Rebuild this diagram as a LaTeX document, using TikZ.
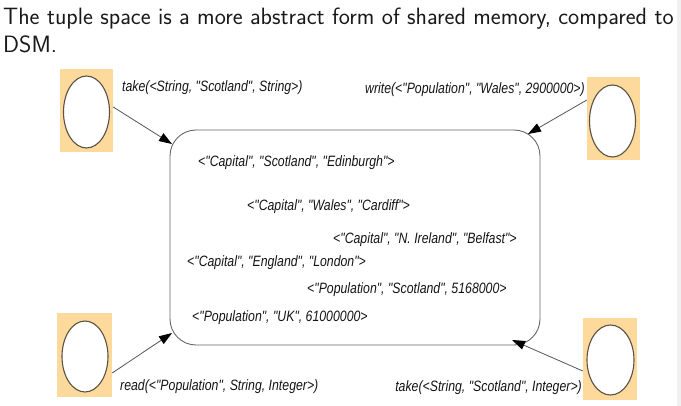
\documentclass[tikz,border=0pt]{standalone}
\usepackage{fontspec}
\usetikzlibrary{arrows.meta,shapes.geometric}
\newfontfamily\lblfont[FakeStretch=0.82]{Liberation Sans}
\definecolor{procfill}{HTML}{FDD99B}
\definecolor{ringcol}{HTML}{5A5242}
\definecolor{linecol}{HTML}{555555}
\begin{document}
\begin{tikzpicture}[x=1pt,y=-1pt,
  proc/.style={fill=procfill,draw=none},
  ring/.style={draw=ringcol,line width=1.1pt,fill=white},
  lbl/.style={font=\lblfont\itshape\fontsize{15}{17}\selectfont,text=black!92,inner sep=0pt},
  tup/.style={font=\lblfont\itshape\fontsize{15}{17}\selectfont,text=black!92,inner sep=0pt,anchor=west},
  conn/.style={draw=linecol,line width=0.8pt,-{Triangle[length=13pt,width=9pt,color=black]}},
  titletext/.style={font=\sffamily\fontsize{23.6}{28}\selectfont,text=black!90,inner sep=0pt,anchor=base west}]
\useasboundingbox (0,0) rectangle (681,406);
\fill[black!6] (677,0) rectangle (681,406);
\node[titletext] (t1) at (3,25) {The tuple space is a more abstract form of shared memory, compared to};
\node[titletext] (t2) at (3,53) {DSM.};
% tuple space
\node[draw=black!60,line width=0.9pt,rounded corners=26pt,minimum width=370pt,minimum height=215pt,inner sep=0pt] (space) at (355,237.5) {};
\node[tup] (e1) at (198,163) {<"Capital", "Scotland", "Edinburgh">};
\node[tup] (e2) at (247,207) {<"Capital", "Wales", "Cardiff">};
\node[tup] (e3) at (333,240) {<"Capital", "N. Ireland", "Belfast">};
\node[tup] (e4) at (187,263) {<"Capital", "England", "London">};
\node[tup] (e5) at (307,290) {<"Population", "Scotland", 5168000>};
\node[tup] (e6) at (192,318) {<"Population", "UK", 61000000>};
% processes
\node[proc,minimum width=53pt,minimum height=83pt,inner sep=0pt] (p1) at (86.5,110.5) {};
\node[ring,ellipse,minimum width=46pt,minimum height=72pt,inner sep=0pt] (r1) at (86.5,112) {};
\node[proc,minimum width=53pt,minimum height=83pt,inner sep=0pt] (p2) at (613.5,118.5) {};
\node[ring,ellipse,minimum width=46pt,minimum height=72pt,inner sep=0pt] (r2) at (612.5,121) {};
\node[proc,minimum width=55pt,minimum height=84pt,inner sep=0pt] (p3) at (84.5,355) {};
\node[ring,ellipse,minimum width=46pt,minimum height=71pt,inner sep=0pt] (r3) at (85,356.5) {};
\node[proc,minimum width=54pt,minimum height=82pt,inner sep=0pt] (p4) at (610,359) {};
\node[ring,ellipse,minimum width=47pt,minimum height=70pt,inner sep=0pt] (r4) at (610.5,360) {};
% labels
\node[lbl,anchor=west] (l1) at (122,88) {take(<String, "Scotland", String>)};
\node[lbl,anchor=east] (l2) at (585,90) {write(<"Population", "Wales", 2900000>)};
\node[lbl,anchor=west] (l3) at (120,387) {read(<"Population", String, Integer>)};
\node[lbl,anchor=east] (l4) at (582,388) {take(<String, "Scotland", Integer>)};
% connectors
\coordinate (a1) at (172,144);
\coordinate (a2) at (528,134);
\coordinate (a3) at (172,333);
\coordinate (a4) at (512,340);
\draw[conn] (p1.east |- 0,107) -- (a1);
\draw[conn] (p2.west |- 0,100) -- (a2);
\draw[conn] (p3.east |- 0,373) -- (a3);
\draw[conn] (p4.west |- 0,371) -- (a4);
\end{tikzpicture}
\end{document}
